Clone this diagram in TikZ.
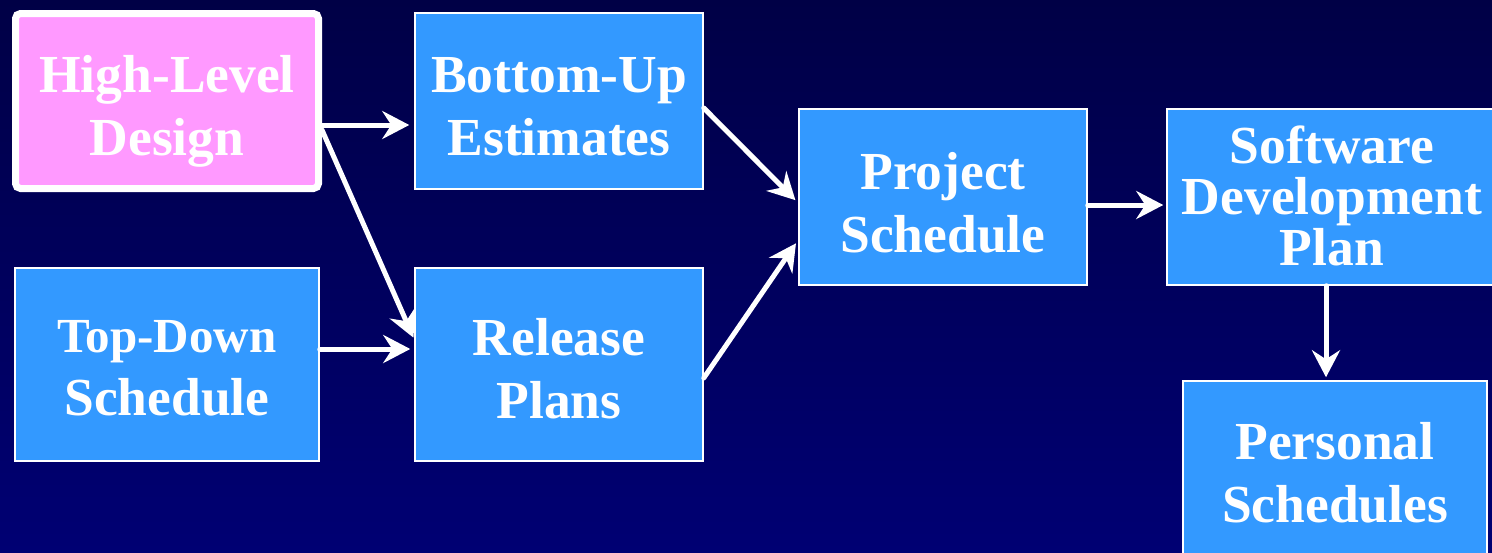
\documentclass[tikz,border=0pt]{standalone}
\usepackage{fontspec}
\setmainfont{Liberation Serif}
\usetikzlibrary{arrows.meta,calc}
\definecolor{boxblue}{RGB}{51,153,255}
\definecolor{boxpink}{RGB}{255,153,255}
\definecolor{bgtop}{RGB}{0,0,70}
\definecolor{bgbot}{RGB}{0,0,115}

\begin{document}
\begin{tikzpicture}[x=1pt,y=-1pt,
  stage/.style={draw=white, line width=1.5pt, fill=boxblue, text=white,
    align=center, inner sep=0pt, text depth=0pt,
    font=\fontsize{53.5}{63}\selectfont\bfseries},
  start/.style={stage, fill=boxpink, line width=7pt, rounded corners=5pt},
  flow/.style={draw=white, line width=5pt, line cap=round,
    -{Stealth[length=27pt,width=28pt,inset=9pt]}}
]
% backdrop
\fill[top color=bgtop, bottom color=bgbot] (0,0) rectangle (1492,552);
\useasboundingbox (0,0) rectangle (1492,552);

% planning stages
\node[start, minimum width=303pt, minimum height=175pt, text height=108pt]
  (hld) at (167,101) {High-Level\\Design};
\node[stage, minimum width=288pt, minimum height=176pt, text height=108pt]
  (bue) at (559,101) {Bottom-Up\\Estimates};
\node[stage, minimum width=304pt, minimum height=193pt, text height=101pt]
  (tds) at (167,364.5) {{\fontsize{49}{63}\selectfont Top-Down}\\Schedule};
\node[stage, minimum width=288pt, minimum height=193pt, text height=107pt]
  (rp) at (559,364.5) {Release\\Plans};
\node[stage, minimum width=288pt, minimum height=176pt, text height=110pt]
  (ps) at (943,197) {Project\\Schedule};
\node[stage, minimum width=330pt, minimum height=176pt, text height=136pt,
  font=\fontsize{53.5}{51}\selectfont\bfseries]
  (sdp) at (1332,197) {Software\\Development\\Plan};
\node[stage, minimum width=304pt, minimum height=182pt, text height=100pt]
  (pers) at (1335,472) {Personal\\Schedules};

% flow between stages
\draw[flow, shorten >=5pt] ([yshift=-24pt]hld.east) -- ([yshift=-24pt]hld.east -| bue.west);
\draw[flow, shorten >=2pt] ([yshift=-29pt]hld.east) -- ([yshift=25pt]rp.west);
\draw[flow, shorten >=4pt] ([yshift=15.5pt]tds.east) -- ([yshift=15.5pt]tds.east -| rp.west);
\draw[flow, shorten >=4pt] ([yshift=-7pt]bue.east) -- ([yshift=-6pt]ps.west);
\draw[flow, shorten >=4pt] ([yshift=-13.5pt]rp.east) -- ([yshift=-43pt]ps.west);
\draw[flow, shorten >=3pt] ([yshift=-8pt]ps.east) -- ([yshift=-8pt]ps.east -| sdp.west);
\draw[flow, shorten >=3pt] ([xshift=-6pt]sdp.south) -- ([xshift=-6pt]sdp.south |- pers.north);
\end{tikzpicture}
\end{document}
